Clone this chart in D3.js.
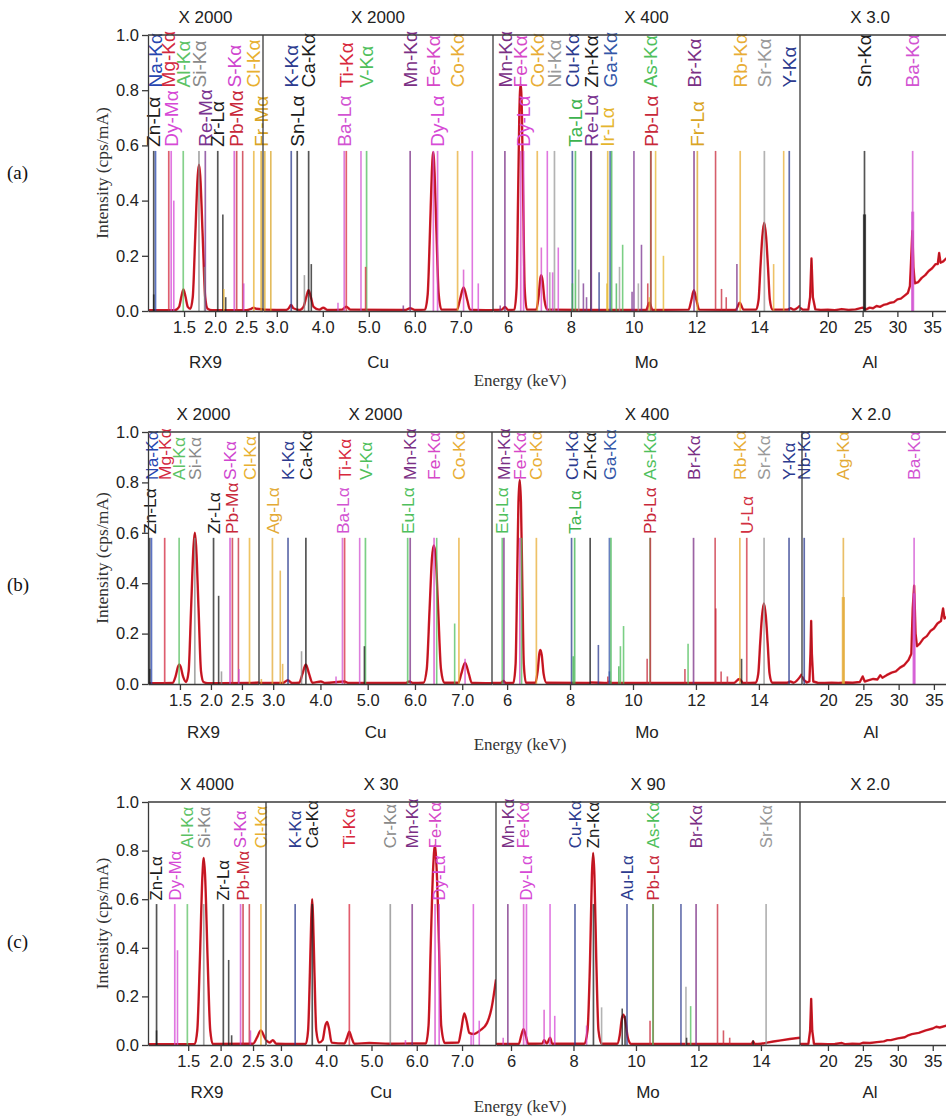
<!DOCTYPE html>
<html>
<head>
<meta charset="utf-8">
<script src="https://cdn.jsdelivr.net/npm/d3@7"></script>
<style>
  body { margin: 0; background: #fff; }
  svg { display: block; }
  .sans { font-family: "Liberation Sans", Arial, sans-serif; }
  .serif { font-family: "Liberation Serif", "Times New Roman", serif; }
</style>
</head>
<body>
<svg id="chart" width="946" height="1117"></svg>
<script>
// ---- data ----
const segmentNames = ["RX9", "Cu", "Mo", "Al"];
const xTickValues = [[1.5, 2.0, 2.5], [3, 4, 5, 6, 7], [6, 8, 10, 12, 14], [20, 25, 30, 35]];
const yTickValues = [0, 0.2, 0.4, 0.6, 0.8, 1.0];
const gainsA = ["X 2000", "X 2000", "X 400", "X 3.0"];
const gainsB = ["X 2000", "X 2000", "X 400", "X 2.0"];
const gainsC = ["X 4000", "X 30", "X 90", "X 2.0"];
const refLineHeight = 0.58;

// labelled reference lines: [segment, energy keV, name]
const linesA = [
  [0, 1.012, "Zn-Lα"], [0, 1.041, "Na-Kα"], [0, 1.254, "Mg-Kα"], [0, 1.293, "Dy-Mα"],
  [0, 1.487, "Al-Kα"], [0, 1.740, "Si-Kα"], [0, 1.842, "Re-Mα"], [0, 2.042, "Zr-Lα"],
  [0, 2.308, "S-Kα"], [0, 2.346, "Pb-Mα"], [0, 2.622, "Cl-Kα"], [0, 2.74, "Fr-Mα"],
  [1, 3.314, "K-Kα"], [1, 3.444, "Sn-Lα"], [1, 3.692, "Ca-Kα"], [1, 4.466, "Ba-Lα"],
  [1, 4.511, "Ti-Kα"], [1, 4.952, "V-Kα"], [1, 5.899, "Mn-Kα"], [1, 6.404, "Fe-Kα"],
  [1, 6.495, "Dy-Lα"], [1, 6.930, "Co-Kα"],
  [2, 5.899, "Mn-Kα"], [2, 6.404, "Fe-Kα"], [2, 6.495, "Dy-Lα"], [2, 6.930, "Co-Kα"],
  [2, 7.478, "Ni-Kα"], [2, 8.048, "Cu-Kα"], [2, 8.146, "Ta-Lα"], [2, 8.639, "Zn-Kα"],
  [2, 8.652, "Re-Lα"], [2, 9.175, "Ir-Lα"], [2, 9.251, "Ga-Kα"], [2, 10.543, "As-Kα"],
  [2, 10.551, "Pb-Lα"], [2, 11.924, "Br-Kα"], [2, 12.03, "Fr-Lα"], [2, 13.395, "Rb-Kα"],
  [2, 14.165, "Sr-Kα"], [2, 14.958, "Y-Kα"],
  [3, 25.271, "Sn-Kα"], [3, 32.194, "Ba-Kα"]
];
const linesB = [
  [0, 1.012, "Zn-Lα"], [0, 1.041, "Na-Kα"], [0, 1.254, "Mg-Kα"], [0, 1.487, "Al-Kα"],
  [0, 1.740, "Si-Kα"], [0, 2.042, "Zr-Lα"], [0, 2.308, "S-Kα"], [0, 2.346, "Pb-Mα"],
  [0, 2.622, "Cl-Kα"],
  [1, 2.984, "Ag-Lα"], [1, 3.314, "K-Kα"], [1, 3.692, "Ca-Kα"], [1, 4.466, "Ba-Lα"],
  [1, 4.511, "Ti-Kα"], [1, 4.952, "V-Kα"], [1, 5.846, "Eu-Lα"], [1, 5.899, "Mn-Kα"],
  [1, 6.404, "Fe-Kα"], [1, 6.930, "Co-Kα"],
  [2, 5.846, "Eu-Lα"], [2, 5.899, "Mn-Kα"], [2, 6.404, "Fe-Kα"], [2, 6.930, "Co-Kα"],
  [2, 8.048, "Cu-Kα"], [2, 8.146, "Ta-Lα"], [2, 8.639, "Zn-Kα"], [2, 9.251, "Ga-Kα"],
  [2, 10.543, "As-Kα"], [2, 10.551, "Pb-Lα"], [2, 11.924, "Br-Kα"], [2, 13.395, "Rb-Kα"],
  [2, 13.615, "U-Lα"], [2, 14.165, "Sr-Kα"], [2, 14.958, "Y-Kα"],
  [3, 16.615, "Nb-Kα"], [3, 22.163, "Ag-Kα"], [3, 32.194, "Ba-Kα"]
];
const linesC = [
  [0, 1.012, "Zn-Lα"], [0, 1.293, "Dy-Mα"], [0, 1.487, "Al-Kα"], [0, 1.740, "Si-Kα"],
  [0, 2.042, "Zr-Lα"], [0, 2.308, "S-Kα"], [0, 2.346, "Pb-Mα"], [0, 2.622, "Cl-Kα"],
  [1, 3.314, "K-Kα"], [1, 3.692, "Ca-Kα"], [1, 4.511, "Ti-Kα"], [1, 5.415, "Cr-Kα"],
  [1, 5.899, "Mn-Kα"], [1, 6.404, "Fe-Kα"], [1, 6.495, "Dy-Lα"],
  [2, 5.899, "Mn-Kα"], [2, 6.404, "Fe-Kα"], [2, 6.495, "Dy-Lα"], [2, 8.048, "Cu-Kα"],
  [2, 8.639, "Zn-Kα"], [2, 9.713, "Au-Lα"], [2, 10.551, "Pb-Lα"], [2, 10.543, "As-Kα"],
  [2, 11.924, "Br-Kα"], [2, 14.165, "Sr-Kα"]
];

// unlabelled reference lines: [segment, energy keV, relative height, element]
const sticksA = [
  [0, 1.012, 0.06, "Zn"], [0, 1.335, 0.40, "Dy"], [0, 1.83, 0.16, "Si"], [0, 2.124, 0.35, "Zr"],
  [0, 2.14, 0.08, "Cl"], [0, 2.17, 0.05, "Zr"], [0, 2.443, 0.58, "Pb"], [0, 2.46, 0.10, "S"],
  [1, 2.74, 0.58, "Fr"], [1, 2.87, 0.58, "Fr"], [1, 3.60, 0.13, "Si"], [1, 3.75, 0.17, "Ca"],
  [1, 4.33, 0.03, "Ba"], [1, 4.83, 0.58, "Ba"], [1, 4.93, 0.16, "Ti"], [1, 5.75, 0.02, "Mn"],
  [1, 7.06, 0.15, "Fe"], [1, 7.25, 0.58, "Dy"], [1, 7.38, 0.10, "Dy"],
  [2, 5.75, 0.02, "Mn"], [2, 7.06, 0.23, "Fe"], [2, 7.25, 0.58, "Dy"], [2, 7.33, 0.14, "Ni"],
  [2, 7.42, 0.14, "Dy"], [2, 7.60, 0.23, "Dy"], [2, 8.05, 0.10, "Ta"], [2, 8.25, 0.15, "Ni"],
  [2, 8.40, 0.10, "Re"], [2, 8.50, 0.05, "Re"], [2, 8.90, 0.14, "Cu"], [2, 9.15, 0.10, "Ir"],
  [2, 9.30, 0.58, "Ta"], [2, 9.45, 0.10, "Ta"], [2, 9.55, 0.16, "Ni"], [2, 9.65, 0.24, "As"],
  [2, 9.95, 0.07, "Re"], [2, 10.01, 0.58, "Re"], [2, 10.15, 0.10, "Ni"], [2, 10.25, 0.24, "Re"],
  [2, 10.45, 0.10, "Pb"], [2, 10.50, 0.05, "Ir"], [2, 10.70, 0.58, "Ir"], [2, 10.95, 0.20, "Ir"],
  [2, 12.61, 0.58, "Pb"], [2, 12.80, 0.08, "Pb"], [2, 12.95, 0.05, "Pb"], [2, 13.29, 0.17, "Br"],
  [2, 14.46, 0.17, "Rb"], [2, 14.78, 0.58, "Rb"],
  [3, 25.271, 0.35, "Sn"], [3, 32.194, 0.36, "Ba"]
];
const sticksB = [
  [0, 1.012, 0.06, "Zn"], [0, 2.124, 0.35, "Zr"], [0, 2.17, 0.05, "Si"], [0, 2.443, 0.58, "Pb"],
  [0, 2.45, 0.06, "S"],
  [1, 2.75, 0.02, "Ag"], [1, 3.15, 0.45, "Ag"], [1, 3.20, 0.08, "Ag"], [1, 3.60, 0.13, "Si"],
  [1, 4.33, 0.03, "Ba"], [1, 4.83, 0.58, "Ba"], [1, 4.93, 0.15, "Ca"], [1, 6.46, 0.58, "Eu"],
  [1, 6.84, 0.24, "Eu"], [1, 7.06, 0.10, "Fe"],
  [2, 6.46, 0.58, "Eu"], [2, 8.10, 0.11, "Ta"], [2, 8.90, 0.155, "Cu"], [2, 9.20, 0.03, "Pb"],
  [2, 9.25, 0.05, "Ga"], [2, 9.30, 0.58, "Ta"], [2, 9.55, 0.07, "Ta"], [2, 9.60, 0.15, "Eu"],
  [2, 9.70, 0.23, "As"], [2, 10.45, 0.10, "Pb"], [2, 11.65, 0.06, "Pb"], [2, 11.75, 0.16, "As"],
  [2, 12.61, 0.58, "Pb"], [2, 12.63, 0.30, "Pb"], [2, 12.80, 0.05, "Pb"], [2, 13.00, 0.03, "Pb"],
  [2, 13.45, 0.10, "Sn"],
  [3, 22.163, 0.345, "Ag"], [3, 32.194, 0.36, "Ba"]
];
const sticksC = [
  [0, 1.012, 0.06, "Zn"], [0, 1.335, 0.39, "Dy"], [0, 2.124, 0.35, "Zr"], [0, 2.17, 0.04, "Zr"],
  [0, 2.443, 0.58, "Pb"], [0, 2.46, 0.06, "S"],
  [1, 5.75, 0.02, "Fe"], [1, 7.20, 0.04, "Dy"], [1, 7.25, 0.58, "Dy"], [1, 7.38, 0.10, "Dy"],
  [2, 5.75, 0.03, "Fe"], [2, 7.06, 0.145, "Fe"], [2, 7.25, 0.58, "Dy"], [2, 7.40, 0.12, "Dy"],
  [2, 8.42, 0.08, "Fe"], [2, 8.90, 0.155, "Ni"], [2, 9.56, 0.15, "Zn"], [2, 9.65, 0.12, "Zn"],
  [2, 10.45, 0.10, "Pb"], [2, 11.44, 0.58, "Au"], [2, 11.60, 0.24, "Ni"], [2, 11.62, 0.03, "Zn"],
  [2, 11.75, 0.16, "As"], [2, 12.61, 0.58, "Pb"], [2, 12.80, 0.06, "Pb"], [2, 13.00, 0.03, "Pb"],
  [2, 13.75, 0.02, "Zn"]
];

// measured spectra, one point list per segment: [energy keV, intensity]
const spectrumA = [
  [[0.92, 0.003], [1.35, 0.003], [1.42, 0.015], [1.46, 0.055], [1.49, 0.078], [1.52, 0.055], [1.56, 0.015],
   [1.6, 0.008], [1.64, 0.05], [1.68, 0.27], [1.72, 0.49], [1.74, 0.53], [1.76, 0.49], [1.8, 0.27],
   [1.84, 0.05], [1.88, 0.008], [1.95, 0.003], [2.5, 0.003], [2.58, 0.008], [2.62, 0.012],
   [2.66, 0.008], [2.77, 0.006]],
  [[2.7, 0.005], [3.2, 0.004], [3.26, 0.01], [3.31, 0.022], [3.36, 0.01], [3.5, 0.004], [3.58, 0.015],
   [3.64, 0.05], [3.69, 0.075], [3.74, 0.05], [3.8, 0.015], [3.92, 0.005], [4.01, 0.012], [4.1, 0.004],
   [4.42, 0.005], [4.51, 0.016], [4.6, 0.005], [5.8, 0.004], [5.9, 0.01], [6.0, 0.004], [6.22, 0.005],
   [6.28, 0.06], [6.33, 0.29], [6.37, 0.5], [6.4, 0.575], [6.43, 0.5], [6.47, 0.29], [6.52, 0.06],
   [6.58, 0.005], [6.92, 0.005], [6.98, 0.04], [7.06, 0.085], [7.14, 0.04], [7.2, 0.005], [7.7, 0.003]],
  [[5.52, 0.004], [5.8, 0.005], [5.9, 0.015], [6.0, 0.004], [6.2, 0.005], [6.27, 0.08], [6.32, 0.42],
   [6.36, 0.72], [6.4, 0.82], [6.44, 0.72], [6.48, 0.42], [6.53, 0.08], [6.6, 0.005], [6.9, 0.005],
   [6.97, 0.05], [7.03, 0.12], [7.06, 0.13], [7.1, 0.11], [7.16, 0.04], [7.25, 0.005], [8.6, 0.004],
   [10.4, 0.004], [10.5, 0.03], [10.6, 0.004], [11.75, 0.005], [11.84, 0.04], [11.92, 0.075],
   [12.0, 0.04], [12.09, 0.005], [13.25, 0.004], [13.38, 0.03], [13.5, 0.005], [13.9, 0.005],
   [13.98, 0.04], [14.04, 0.16], [14.1, 0.27], [14.16, 0.32], [14.22, 0.27], [14.28, 0.16],
   [14.34, 0.04], [14.42, 0.005], [14.9, 0.005], [15.0, 0.01], [15.1, 0.005], [15.3, 0.02]],
  [[16, 0.012], [16.4, 0.005], [17.2, 0.005], [17.45, 0.05], [17.65, 0.19], [17.85, 0.05], [18.2, 0.006],
   [19, 0.004], [20, 0.005], [21, 0.003], [22, 0.007], [23, 0.004], [24, 0.006], [25, 0.012],
   [25.5, 0.006], [26, 0.012], [26.5, 0.01], [27, 0.018], [27.5, 0.015], [28, 0.022], [28.5, 0.025],
   [29, 0.03], [29.5, 0.032], [30, 0.042], [30.5, 0.045], [31, 0.055], [31.5, 0.065], [31.8, 0.09],
   [32.0, 0.2], [32.15, 0.29], [32.3, 0.16], [32.5, 0.1], [33, 0.105], [33.5, 0.12], [34, 0.13],
   [34.5, 0.145], [35, 0.155], [35.5, 0.17], [35.8, 0.17], [36.0, 0.21], [36.2, 0.175], [36.6, 0.18],
   [37, 0.19], [38, 0.2], [39, 0.21]]
];
const spectrumB = [
  [[0.985, 0.003], [1.38, 0.004], [1.43, 0.03], [1.47, 0.07], [1.49, 0.078], [1.51, 0.07], [1.55, 0.03],
   [1.6, 0.008], [1.64, 0.05], [1.68, 0.3], [1.72, 0.55], [1.74, 0.6], [1.76, 0.55], [1.8, 0.3],
   [1.84, 0.05], [1.88, 0.008], [1.95, 0.003], [2.6, 0.004], [2.78, 0.006]],
  [[2.7, 0.004], [3.2, 0.004], [3.31, 0.015], [3.4, 0.004], [3.55, 0.005], [3.62, 0.04], [3.69, 0.078],
   [3.76, 0.04], [3.83, 0.005], [4.01, 0.01], [4.1, 0.004], [4.5, 0.01], [4.6, 0.004], [5.8, 0.004],
   [5.88, 0.01], [5.96, 0.004], [6.18, 0.005], [6.25, 0.06], [6.31, 0.3], [6.36, 0.5], [6.4, 0.55],
   [6.44, 0.5], [6.49, 0.3], [6.55, 0.06], [6.62, 0.005], [6.92, 0.005], [6.98, 0.04], [7.06, 0.085],
   [7.14, 0.04], [7.2, 0.005], [7.63, 0.003]],
  [[5.52, 0.004], [5.8, 0.004], [5.88, 0.012], [5.96, 0.004], [6.2, 0.005], [6.27, 0.08], [6.32, 0.42],
   [6.36, 0.72], [6.4, 0.81], [6.44, 0.72], [6.48, 0.42], [6.53, 0.08], [6.6, 0.005], [6.9, 0.005],
   [6.97, 0.05], [7.03, 0.125], [7.06, 0.135], [7.1, 0.115], [7.16, 0.04], [7.25, 0.005], [8.6, 0.004],
   [8.66, 0.006], [9.2, 0.004], [9.25, 0.01], [9.3, 0.004], [13.2, 0.004], [13.38, 0.02], [13.5, 0.004],
   [13.9, 0.005], [13.98, 0.04], [14.04, 0.16], [14.1, 0.27], [14.16, 0.32], [14.22, 0.27],
   [14.28, 0.16], [14.34, 0.04], [14.42, 0.005], [14.9, 0.005], [15.0, 0.01], [15.1, 0.005],
   [15.37, 0.04]],
  [[16.3, 0.03], [16.6, 0.015], [17.0, 0.006], [17.35, 0.01], [17.5, 0.12], [17.6, 0.25], [17.7, 0.12],
   [17.9, 0.01], [18.5, 0.005], [19.5, 0.004], [20.5, 0.005], [21.5, 0.004], [22.5, 0.006],
   [23.5, 0.005], [24.5, 0.008], [24.9, 0.03], [25.2, 0.01], [25.8, 0.015], [26.4, 0.02], [27, 0.018],
   [27.4, 0.035], [27.7, 0.025], [28.3, 0.035], [29, 0.045], [29.6, 0.05], [30.2, 0.065], [30.8, 0.075],
   [31.4, 0.095], [31.8, 0.12], [32.0, 0.3], [32.2, 0.39], [32.4, 0.2], [32.6, 0.15], [33, 0.16],
   [33.5, 0.18], [34, 0.19], [34.5, 0.21], [35, 0.22], [35.5, 0.24], [36, 0.25], [36.3, 0.3],
   [36.5, 0.26], [37, 0.27], [38, 0.29], [38.7, 0.3]]
];
const spectrumC = [
  [[0.88, 0.003], [1.6, 0.004], [1.64, 0.06], [1.68, 0.35], [1.72, 0.7], [1.74, 0.77], [1.76, 0.7],
   [1.8, 0.35], [1.84, 0.06], [1.88, 0.004], [2.5, 0.005], [2.56, 0.03], [2.62, 0.06], [2.68, 0.03],
   [2.7, 0.02]],
  [[2.67, 0.02], [2.75, 0.01], [2.82, 0.02], [2.9, 0.005], [3.3, 0.004], [3.55, 0.005], [3.6, 0.06],
   [3.64, 0.3], [3.67, 0.52], [3.69, 0.6], [3.71, 0.52], [3.74, 0.3], [3.78, 0.06], [3.84, 0.01],
   [3.92, 0.02], [3.98, 0.08], [4.02, 0.095], [4.06, 0.07], [4.12, 0.01], [4.4, 0.006], [4.46, 0.03],
   [4.51, 0.055], [4.56, 0.03], [4.62, 0.005], [4.95, 0.008], [5.4, 0.005], [5.9, 0.006], [6.2, 0.006],
   [6.26, 0.08], [6.31, 0.42], [6.36, 0.72], [6.4, 0.82], [6.44, 0.72], [6.49, 0.42], [6.54, 0.08],
   [6.62, 0.008], [6.92, 0.01], [6.98, 0.06], [7.05, 0.13], [7.1, 0.1], [7.16, 0.05], [7.25, 0.045],
   [7.4, 0.06], [7.55, 0.09], [7.65, 0.15], [7.75, 0.27]],
  [[5.52, 0.004], [5.9, 0.004], [6.25, 0.005], [6.33, 0.04], [6.4, 0.065], [6.47, 0.04], [6.55, 0.005],
   [7.0, 0.006], [7.06, 0.02], [7.15, 0.006], [7.25, 0.03], [7.32, 0.005], [8.35, 0.005], [8.45, 0.06],
   [8.53, 0.35], [8.59, 0.7], [8.63, 0.79], [8.67, 0.7], [8.73, 0.35], [8.8, 0.06], [8.9, 0.005],
   [9.4, 0.005], [9.48, 0.04], [9.55, 0.11], [9.6, 0.125], [9.66, 0.1], [9.74, 0.03], [9.85, 0.004],
   [13.7, 0.004], [13.75, 0.015], [13.8, 0.004], [14.0, 0.005], [14.2, 0.01], [15.25, 0.03]],
  [[16, 0.004], [17.2, 0.005], [17.45, 0.06], [17.6, 0.19], [17.75, 0.06], [18, 0.005], [19, 0.004],
   [20, 0.003], [21, 0.004], [22, 0.008], [22.5, 0.003], [23.5, 0.005], [24.5, 0.004], [25, 0.009],
   [26, 0.008], [27, 0.012], [28, 0.015], [28.5, 0.02], [29, 0.02], [30, 0.027], [31, 0.032],
   [31.5, 0.04], [32, 0.045], [33, 0.05], [33.5, 0.055], [34, 0.06], [35, 0.068], [35.5, 0.075],
   [36, 0.072], [37, 0.08], [38.9, 0.085]]
];

const elementColors = {
  Na: "#2746b0", Zn: "#1c1c1c", Mg: "#d3283f", Dy: "#d64ad6", Al: "#5cc264", Si: "#8a8a8a",
  Re: "#7a3490", Zr: "#1c1c1c", Pb: "#c8283a", S: "#cf45cf", Cl: "#e8b030", Fr: "#d9a424",
  Ag: "#e3aa35", K: "#2c3b8f", Sn: "#1c1c1c", Ca: "#1c1c1c", Ba: "#d253d2", Ti: "#d8283d",
  V: "#4fbf5c", Cr: "#8a8a8a", Mn: "#7b2f85", Eu: "#4fbf5c", Fe: "#d648c8", Co: "#e8ad35",
  Ni: "#9a9a9a", Cu: "#2c3b8f", Ta: "#3db34e", Ga: "#3457a8", Ir: "#e5b52e", As: "#4fbf5c",
  Br: "#7b2f85", Au: "#2c3b8f", Rb: "#e8ad35", U: "#d23040", Sr: "#999999", Y: "#2c3b8f",
  Nb: "#2c3b8f"
};

// ---- layout ----
const panels = [
  { tag: "(a)", tagY: 179, top: 35, bottom: 311, breaks: [148, 263, 493, 800, 960],
    domains: [[0.92, 2.77], [2.70, 7.70], [5.52, 15.3], [16, 39]],
    gains: gainsA, lines: linesA, sticks: sticksA, spectrum: spectrumA, nameY: 368, energyY: 386 },
  { tag: "(b)", tagY: 591, top: 432, bottom: 684, breaks: [148, 259, 492, 802, 960],
    domains: [[0.985, 2.775], [2.70, 7.63], [5.52, 15.37], [16.3, 38.7]],
    gains: gainsB, lines: linesB, sticks: sticksB, spectrum: spectrumB, nameY: 738, energyY: 750 },
  { tag: "(c)", tagY: 948, top: 802, bottom: 1045, breaks: [148, 266, 496, 800, 960],
    domains: [[0.88, 2.70], [2.67, 7.75], [5.52, 15.25], [16, 38.9]],
    gains: gainsC, lines: linesC, sticks: sticksC, spectrum: spectrumC, nameY: 1098, energyY: 1112 }
];

const svg = d3.select("#chart");
const defs = svg.append("defs");
const axisColor = "#3a3a3a";
const colorOf = name => elementColors[name.split("-")[0]] || "#333";

panels.forEach((p, pi) => {
  const g = svg.append("g");
  const y = d3.scaleLinear().domain([0, 1]).range([p.bottom, p.top]);
  const labelSize = (p.bottom - p.top) * 0.069;
  const xs = p.domains.map((dom, si) =>
    d3.scaleLinear().domain(dom).range([p.breaks[si], p.breaks[si + 1]]));

  xs.forEach((x, si) => {
    const clipId = `clip-${pi}-${si}`;
    defs.append("clipPath").attr("id", clipId).append("rect")
      .attr("x", p.breaks[si]).attr("y", p.top)
      .attr("width", p.breaks[si + 1] - p.breaks[si]).attr("height", p.bottom - p.top);

    const plot = g.append("g").attr("clip-path", `url(#${clipId})`);

    // spectrum
    const pts = p.spectrum[si];
    const line = d3.line()
      .x(d => x(d[0])).y(d => y(d[1]))
      .curve(si === 3 ? d3.curveLinear : d3.curveMonotoneX);
    plot.append("path").datum(pts).attr("d", line)
      .attr("fill", "none").attr("stroke", "#dc1c2c").attr("stroke-width", 2.4)
      .attr("stroke-linejoin", "round");
    plot.append("path").datum(pts).attr("d", line)
      .attr("fill", "none").attr("stroke", "#8a1212").attr("stroke-width", 1)
      .attr("stroke-opacity", 0.55);

    // reference lines
    const tall = p.lines.filter(d => d[0] === si);
    plot.selectAll("line.ref").data(tall).join("line").attr("class", "ref")
      .attr("x1", d => x(d[1])).attr("x2", d => x(d[1]))
      .attr("y1", y(0)).attr("y2", y(refLineHeight))
      .attr("stroke", d => colorOf(d[2])).attr("stroke-width", 1.7).attr("stroke-opacity", 0.75);
    const extra = p.sticks.filter(d => d[0] === si);
    plot.selectAll("line.extra").data(extra).join("line").attr("class", "extra")
      .attr("x1", d => x(d[1])).attr("x2", d => x(d[1]))
      .attr("y1", y(0)).attr("y2", d => y(d[2]))
      .attr("stroke", d => colorOf(d[3]))
      .attr("stroke-width", si === 3 ? 3.2 : 1.6).attr("stroke-opacity", 0.75);

    // labels
    g.selectAll(null).data(tall).join("text")
      .attr("class", "sans")
      .attr("transform", d => `translate(${x(d[1])},${y(d[2].endsWith("Kα") ? 0.81 : 0.595)}) rotate(-90)`)
      .attr("dy", "0.35em")
      .style("font-size", labelSize + "px")
      .attr("fill", d => colorOf(d[2]))
      .text(d => d[2]);

    // x axis
    const ax = g.append("g").attr("transform", `translate(0,${p.bottom})`)
      .call(d3.axisBottom(x).tickValues(xTickValues[si])
        .tickFormat(si < 2 ? d3.format(".1f") : d3.format("d"))
        .tickSize(6).tickSizeOuter(0).tickPadding(4));
    ax.selectAll("path, line").attr("stroke", axisColor).attr("stroke-width", 1.3);
    ax.selectAll("text").attr("class", "sans").style("font-size", "16.5px").attr("fill", "#222");

    // gain and segment name
    const cx = si === 3 ? (p.breaks[3] + 940) / 2 : (p.breaks[si] + p.breaks[si + 1]) / 2;
    g.append("text").attr("class", "sans").attr("x", cx).attr("y", p.top - 12)
      .attr("text-anchor", "middle").style("font-size", "17px").attr("fill", "#222")
      .text(p.gains[si]);
    g.append("text").attr("class", "sans").attr("x", cx).attr("y", p.nameY)
      .attr("text-anchor", "middle").style("font-size", "17px").attr("fill", "#222")
      .text(segmentNames[si]);
  });

  // frame: top border and segment dividers
  g.append("line").attr("x1", p.breaks[0]).attr("x2", 946).attr("y1", p.top).attr("y2", p.top)
    .attr("stroke", axisColor).attr("stroke-width", 1.3);
  p.breaks.slice(1, 4).forEach(bx => {
    g.append("line").attr("x1", bx).attr("x2", bx).attr("y1", p.top).attr("y2", p.bottom)
      .attr("stroke", axisColor).attr("stroke-width", 1.3);
  });

  // y axis
  const ay = g.append("g").attr("transform", `translate(${p.breaks[0]},0)`)
    .call(d3.axisLeft(y).tickValues(yTickValues).tickFormat(d3.format(".1f"))
      .tickSize(6).tickSizeOuter(0).tickPadding(3));
  ay.selectAll("path, line").attr("stroke", axisColor).attr("stroke-width", 1.3);
  ay.selectAll("text").attr("class", "sans").style("font-size", "16.5px").attr("fill", "#222");

  g.append("text").attr("class", "serif")
    .attr("transform", `translate(102,${(p.top + p.bottom) / 2}) rotate(-90)`)
    .attr("dy", "0.35em").attr("text-anchor", "middle")
    .style("font-size", "17.5px").attr("fill", "#333")
    .text("Intensity (cps/mA)");
  g.append("text").attr("class", "serif").attr("x", 520).attr("y", p.energyY)
    .attr("text-anchor", "middle").style("font-size", "17px").attr("fill", "#333")
    .text("Energy (keV)");
  g.append("text").attr("class", "serif").attr("x", 7).attr("y", p.tagY)
    .style("font-size", "19px").attr("fill", "#111")
    .text(p.tag);
});
</script>
</body>
</html>
